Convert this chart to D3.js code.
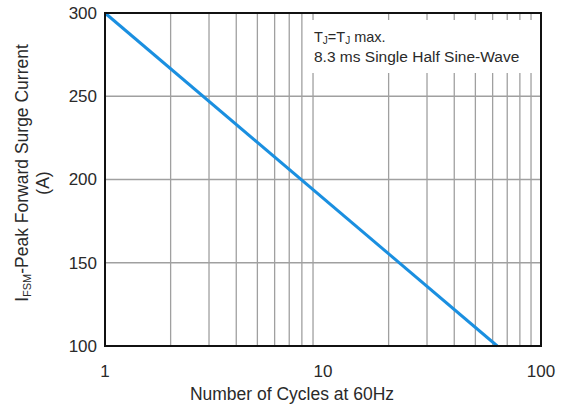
<!DOCTYPE html>
<html>
<head>
<meta charset="utf-8">
<script src="https://cdn.jsdelivr.net/npm/d3@7"></script>
<style>
  body { margin: 0; background: #fff; }
  text { font-family: "Liberation Sans", Arial, sans-serif; fill: #2a2a2a; }
</style>
</head>
<body>
<svg id="chart" width="569" height="406"></svg>
<script>
const cycles = [1, 63];
const current = [300, 100];
const xTicks = [1, 10, 100];
const yTicks = [100, 150, 200, 250, 300];
const xGrid = [2, 3, 4, 5, 6, 7, 8, 9, 20, 30, 40, 50, 60, 70, 80, 90];

const margin = { top: 13, right: 28, bottom: 60, left: 105 },
      width = 569 - margin.left - margin.right,
      height = 406 - margin.top - margin.bottom;

const svg = d3.select("#chart");
const g = svg.append("g")
  .attr("transform", `translate(${margin.left},${margin.top})`);

const x = d3.scaleLog().domain([1, 100]).range([0, width]);
const y = d3.scaleLinear().domain([100, 300]).range([height, 0]);

// grid
g.selectAll(".vgrid")
  .data(xGrid)
  .join("line")
  .attr("x1", d => x(d)).attr("x2", d => x(d))
  .attr("y1", 0).attr("y2", height)
  .attr("stroke", "#a0a0a0").attr("stroke-width", 1.3);

g.selectAll(".hgrid")
  .data(yTicks.slice(1, -1))
  .join("line")
  .attr("x1", 0).attr("x2", width)
  .attr("y1", d => y(d)).attr("y2", d => y(d))
  .attr("stroke", "#a0a0a0").attr("stroke-width", 1.3);

// annotation box
g.append("rect")
  .attr("x", 203).attr("y", 7)
  .attr("width", 226).attr("height", 53)
  .attr("fill", "#fff");

const note = g.append("text")
  .attr("x", 209).attr("y", 29)
  .style("font-size", "14.5px");
note.append("tspan").text("T");
note.append("tspan").attr("dy", 2).style("font-size", "10px").text("J");
note.append("tspan").attr("dy", -2).text("=T");
note.append("tspan").attr("dy", 2).style("font-size", "10px").text("J");
note.append("tspan").attr("dy", -2).text(" max.");

g.append("text")
  .attr("x", 209).attr("y", 49)
  .style("font-size", "15.5px")
  .text("8.3 ms Single Half Sine-Wave");

// curve
const pts = cycles.map((c, i) => [c, current[i]]);
g.append("path")
  .datum(pts)
  .attr("fill", "none")
  .attr("stroke", "#1a8fe0")
  .attr("stroke-width", 3)
  .attr("d", d3.line().x(d => x(d[0])).y(d => y(d[1])));

// frame
g.append("rect")
  .attr("width", width).attr("height", height)
  .attr("fill", "none")
  .attr("stroke", "#111").attr("stroke-width", 2);

// axes labels
g.selectAll(".ylab")
  .data(yTicks)
  .join("text")
  .attr("x", -8)
  .attr("y", d => y(d))
  .attr("dy", "0.35em")
  .attr("text-anchor", "end")
  .style("font-size", "17px")
  .text(d => d);

g.selectAll(".xlab")
  .data(xTicks)
  .join("text")
  .attr("x", d => x(d))
  .attr("y", height + 31)
  .attr("text-anchor", "middle")
  .style("font-size", "17px")
  .text(d => d);

g.append("text")
  .attr("x", 292 - margin.left)
  .attr("y", height + 54)
  .attr("text-anchor", "middle")
  .style("font-size", "17.5px")
  .text("Number of Cycles at 60Hz");

const yt = svg.append("text")
  .attr("transform", "translate(28,173) rotate(-90)")
  .attr("text-anchor", "middle")
  .style("font-size", "17.5px");
yt.append("tspan").text("I");
yt.append("tspan").attr("dy", 3).style("font-size", "11px").text("FSM");
yt.append("tspan").attr("dy", -3).text("-Peak Forward Surge Current");

svg.append("text")
  .attr("transform", "translate(49,183) rotate(-90)")
  .attr("text-anchor", "middle")
  .style("font-size", "17.5px")
  .text("(A)");
</script>
</body>
</html>
